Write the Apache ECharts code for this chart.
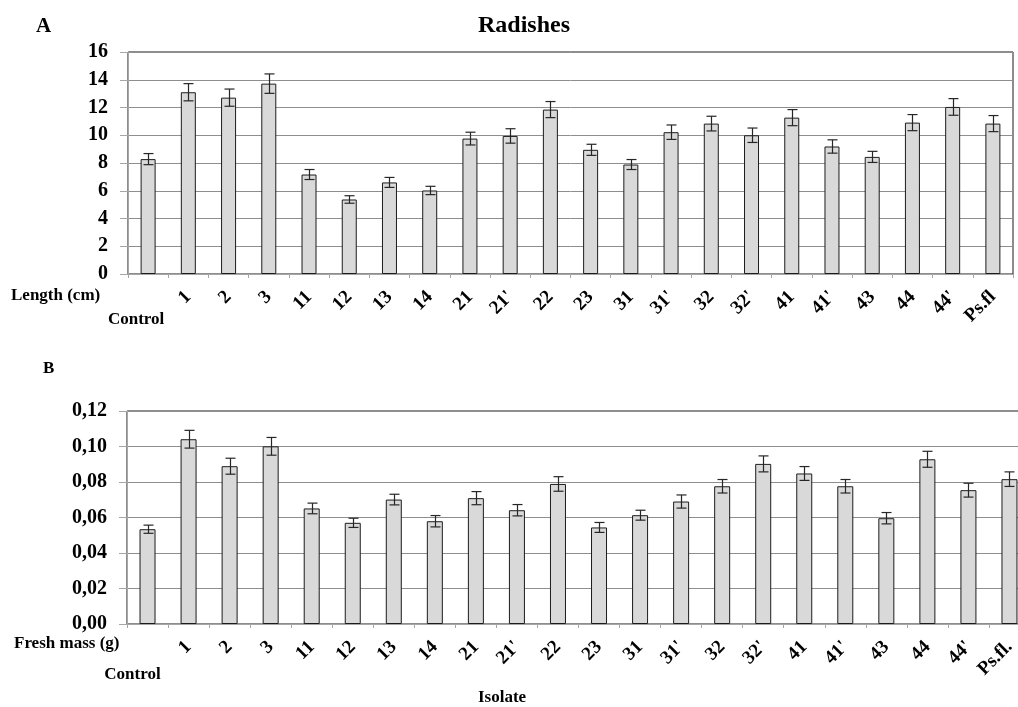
<!DOCTYPE html>
<html>
<head>
<meta charset="utf-8">
<script src="https://cdn.jsdelivr.net/npm/echarts@6/dist/echarts.min.js"></script>
<style>
  html, body { margin: 0; padding: 0; background: #fff; }
  #chart { width: 1018px; height: 707px; }
</style>
</head>
<body>
<div id="chart"></div>
<script>
// Isolate names (panel A and panel B)
const isolatesA = ['Control', '1', '2', '3', '11', '12', '13', '14', '21', "21'", '22', '23', '31', "31'", '32', "32'", '41', "41'", '43', '44', "44'", 'Ps.fl'];
const isolatesB = ['Control', '1', '2', '3', '11', '12', '13', '14', '21', "21'", '22', '23', '31', "31'", '32', "32'", '41', "41'", '43', '44', "44'", 'Ps.fl.'];

// A: radish length (cm), mean and standard error
const lengthMean = [8.28, 13.1, 12.71, 13.72, 7.17, 5.37, 6.6, 6.02, 9.76, 9.95, 11.85, 8.95, 7.89, 10.22, 10.84, 10.0, 11.27, 9.19, 8.44, 10.91, 12.04, 10.84];
const lengthErr  = [0.4, 0.62, 0.62, 0.7, 0.36, 0.27, 0.36, 0.3, 0.46, 0.52, 0.58, 0.4, 0.36, 0.52, 0.53, 0.52, 0.58, 0.48, 0.4, 0.58, 0.6, 0.58];

// B: fresh mass (g), mean and standard error
const massMean = [0.0534, 0.1041, 0.0889, 0.1001, 0.0651, 0.057, 0.0701, 0.0579, 0.0709, 0.0641, 0.0789, 0.0544, 0.0613, 0.069, 0.0776, 0.0902, 0.0848, 0.0776, 0.0596, 0.0928, 0.0754, 0.0816];
const massErr  = [0.0023, 0.005, 0.0045, 0.005, 0.003, 0.0026, 0.003, 0.0032, 0.0037, 0.0032, 0.0041, 0.0028, 0.0028, 0.0037, 0.0038, 0.0045, 0.0039, 0.0038, 0.0032, 0.0045, 0.0039, 0.0041];

// Value axis ranges
const lengthAxis = { min: 0, max: 16, interval: 2 };
const massAxis = { min: 0, max: 0.12, interval: 0.02 };

const FONT = '"Liberation Serif", "Times New Roman", serif';
const GRID_LINE = '#8e8e8e';
const AXIS_LINE = '#a6a6a6';

const chart = echarts.init(document.getElementById('chart'), null, { renderer: 'canvas' });

function errorBarSeries(gridIdx, means, errs, capHalf) {
  return {
    type: 'custom',
    xAxisIndex: gridIdx * 2,
    yAxisIndex: gridIdx,
    z: 5,
    data: means.map((m, i) => [i, m - errs[i], m + errs[i]]),
    renderItem: function (params, api) {
      const lo = api.coord([api.value(0), api.value(1)]);
      const hi = api.coord([api.value(0), api.value(2)]);
      const x = Math.round(lo[0]) + 0.5;
      const style = { stroke: '#262626', lineWidth: 1.2 };
      return {
        type: 'group',
        children: [
          { type: 'line', shape: { x1: x, y1: hi[1], x2: x, y2: lo[1] }, style: style },
          { type: 'line', shape: { x1: x - capHalf, y1: hi[1], x2: x + capHalf, y2: hi[1] }, style: style },
          { type: 'line', shape: { x1: x - capHalf, y1: lo[1], x2: x + capHalf, y2: lo[1] }, style: style }
        ]
      };
    }
  };
}

function mainXAxis(gridIdx, cats) {
  return {
    type: 'category',
    gridIndex: gridIdx,
    data: cats,
    position: 'bottom',
    axisLine: { show: true, lineStyle: { color: AXIS_LINE, width: 1 } },
    axisTick: { show: true, length: 4, lineStyle: { color: AXIS_LINE } },
    axisLabel: {
      interval: 0,
      rotate: 45,
      margin: 20,
      hideOverlap: false,
      color: '#000',
      fontFamily: FONT,
      fontWeight: 'bold',
      fontSize: 19,
      formatter: (v, i) => (i === 0 ? '' : v)
    },
    splitLine: { show: false }
  };
}

function controlXAxis(gridIdx, cats, margin, shift) {
  return {
    type: 'category',
    gridIndex: gridIdx,
    data: cats,
    position: 'bottom',
    axisLine: { show: false },
    axisTick: { show: false },
    axisLabel: {
      interval: 0,
      margin: margin,
      hideOverlap: false,
      color: '#000',
      fontFamily: FONT,
      fontWeight: 'bold',
      fontSize: 17,
      padding: [0, shift * 2, 0, 0],
      formatter: (v, i) => (i === 0 ? v : '')
    },
    splitLine: { show: false }
  };
}

function valueYAxis(gridIdx, range, fmt) {
  return {
    type: 'value',
    gridIndex: gridIdx,
    min: range.min,
    max: range.max,
    interval: range.interval,
    axisLine: { show: true, lineStyle: { color: AXIS_LINE } },
    axisTick: { show: true, length: 8, lineStyle: { color: AXIS_LINE } },
    axisLabel: {
      margin: 20,
      color: '#000',
      fontFamily: FONT,
      fontWeight: 'bold',
      fontSize: 20,
      formatter: fmt
    },
    splitLine: { show: true, lineStyle: { color: GRID_LINE, width: 1 } }
  };
}

const barStyle = { color: '#d9d9d9', borderColor: '#1c1c1c', borderWidth: 1 };

chart.setOption({
  animation: false,
  backgroundColor: '#fff',
  title: {
    text: 'Radishes',
    left: 519,
    top: 9,
    textAlign: 'center',
    textStyle: { fontFamily: FONT, fontWeight: 'bold', fontSize: 24, color: '#000' }
  },
  grid: [
    { left: 128, top: 52, width: 885, height: 222, outerBoundsMode: 'none', containLabel: false, show: true, borderColor: '#1a1a1a', borderWidth: 1, backgroundColor: 'transparent' },
    { left: 127, top: 411, width: 903, height: 213, outerBoundsMode: 'none', containLabel: false, show: true, borderColor: '#1a1a1a', borderWidth: 1, backgroundColor: 'transparent' }
  ],
  xAxis: [
    mainXAxis(0, isolatesA),
    controlXAxis(0, isolatesA, 37, 12),
    mainXAxis(1, isolatesB),
    controlXAxis(1, isolatesB, 42, 15)
  ],
  yAxis: [
    valueYAxis(0, lengthAxis, v => String(v)),
    valueYAxis(1, massAxis, v => v.toFixed(2).replace('.', ','))
  ],
  series: [
    {
      type: 'bar', xAxisIndex: 0, yAxisIndex: 0, data: lengthMean,
      barWidth: 15, itemStyle: barStyle
    },
    errorBarSeries(0, lengthMean, lengthErr, 5),
    {
      type: 'bar', xAxisIndex: 2, yAxisIndex: 1, data: massMean,
      barWidth: 16, itemStyle: barStyle
    },
    errorBarSeries(1, massMean, massErr, 5)
  ],
  graphic: [
    { type: 'text', left: 36, top: 16, style: { text: 'A', font: 'bold 21px ' + FONT, fill: '#000' } },
    { type: 'text', left: 43, top: 360, style: { text: 'B', font: 'bold 17px ' + FONT, fill: '#000' } },
    { type: 'text', left: 11, top: 287, style: { text: 'Length (cm)', font: 'bold 17px ' + FONT, fill: '#000' } },
    { type: 'text', left: 14, top: 635, style: { text: 'Fresh mass (g)', font: 'bold 17px ' + FONT, fill: '#000' } },
    { type: 'text', left: 478, top: 689, style: { text: 'Isolate', font: 'bold 17px ' + FONT, fill: '#000' } }
  ]
});
</script>
</body>
</html>
